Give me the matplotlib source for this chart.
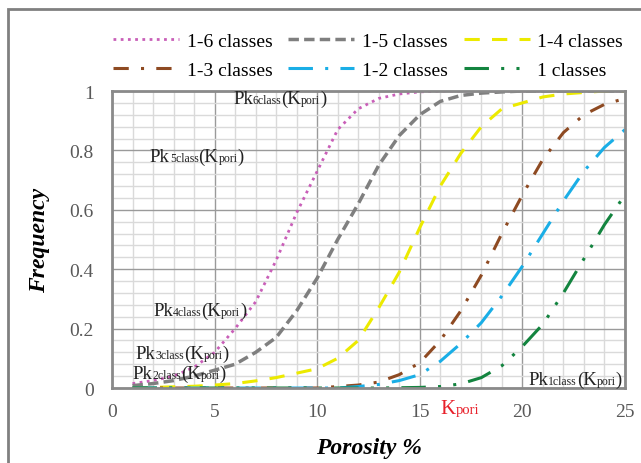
import matplotlib

matplotlib.use("Agg")
import matplotlib.pyplot as plt
from matplotlib.offsetbox import AnnotationBbox, HPacker, TextArea
from matplotlib.patches import Rectangle
from matplotlib.ticker import MultipleLocator

plt.rcParams["font.family"] = ["Liberation Serif", "DejaVu Serif"]

porosity = list(range(1, 26))

cls_1_6 = [0.015, 0.025, 0.04, 0.07, 0.12, 0.2, 0.29, 0.43, 0.59, 0.73, 0.87, 0.94, 0.975,
           0.99, 0.997, 1, 1, 1, 1, 1, 1, 1, 1, 1, 1]
cls_1_5 = [0.008, 0.015, 0.025, 0.04, 0.06, 0.08, 0.12, 0.17, 0.26, 0.37, 0.5, 0.62, 0.75,
           0.85, 0.92, 0.965, 0.985, 0.993, 0.997, 1, 1, 1, 1, 1, 1]
cls_1_4 = [0.0, 0.002, 0.004, 0.006, 0.01, 0.015, 0.024, 0.035, 0.05, 0.065, 0.1, 0.16, 0.27,
           0.39, 0.54, 0.68, 0.79, 0.88, 0.94, 0.96, 0.98, 0.99, 0.995, 1, 1]
cls_1_3 = [0, 0, 0, 0, 0, 0, 0, 0, 0, 0, 0.005, 0.01, 0.02, 0.045, 0.085, 0.16, 0.26, 0.38,
           0.52, 0.65, 0.77, 0.86, 0.92, 0.955, 0.975]
cls_1_2 = [0, 0, 0, 0, 0, 0, 0, 0, 0, 0, 0, 0.005, 0.012, 0.025, 0.045, 0.09, 0.15, 0.22,
           0.31, 0.41, 0.52, 0.63, 0.73, 0.81, 0.87]
cls_1 = [0, 0, 0, 0, 0, 0, 0, 0, 0, 0, 0, 0, 0, 0.001, 0.002, 0.005, 0.014, 0.035, 0.075,
         0.14, 0.215, 0.32, 0.435, 0.55, 0.65]

labels = ["1-6 classes", "1-5 classes", "1-4 classes", "1-3 classes", "1-2 classes", "1 classes"]

# Pk labels: (subscript, x, y, box alignment)
pk_notes = [("6class", 5.9, 0.976, (0, 0.5)),
            ("5class", 1.85, 0.78, (0, 0.5)),
            ("4class", 2.0, 0.26, (0, 0.5)),
            ("3class", 1.15, 0.118, (0, 0.5)),
            ("2class", 1.0, 0.05, (0, 0.5)),
            ("1class", 24.85, 0.03, (1, 0.5))]


def sub_text(ax, parts, xy, align, color="#222222", big=13.5, small=8.5):
    # parts: list of (text, is_subscript)
    boxes = [TextArea(t, textprops=dict(size=small if s else big, color=color))
             for t, s in parts]
    pack = HPacker(children=boxes, align="baseline", pad=0, sep=0)
    ab = AnnotationBbox(pack, xy, xycoords="data", box_alignment=align,
                        frameon=False, pad=0, annotation_clip=False)
    ax.add_artist(ab)


fig = plt.figure(figsize=(6.41, 4.64), dpi=100)
fig.patches.append(Rectangle((8 / 641, -0.1), 1.2, 1 - 10 / 464 + 0.1, transform=fig.transFigure,
                             fill=False, edgecolor="#808080", lw=2))
ax = fig.add_axes([0.1747, 0.1616, 0.8003, 0.6401])

h6, = ax.plot(porosity, cls_1_6, color="#c95fb8", lw=2, ls=(0, (1, 1.6)))
h5, = ax.plot(porosity, cls_1_5, color="#7f7f7f", lw=2.5, ls=(0, (3, 1.5)))
h4, = ax.plot(porosity, cls_1_4, color="#ecea00", lw=2.2, ls=(0, (5, 4)))
h3, = ax.plot(porosity, cls_1_3, color="#8e4a22", lw=2.2, ls=(0, (5, 4, 1, 4)))
h2, = ax.plot(porosity, cls_1_2, color="#1aaee6", lw=2.2, ls=(0, (8, 4, 1, 4)))
h1, = ax.plot(porosity, cls_1, color="#13843f", lw=2.2, ls=(0, (8, 4, 1, 4, 1, 4)))

ax.set_xlim(0, 25)
ax.set_ylim(0, 1)
ax.xaxis.set_major_locator(MultipleLocator(5))
ax.xaxis.set_minor_locator(MultipleLocator(1))
ax.yaxis.set_minor_locator(MultipleLocator(0.04))
ax.set_yticks([0, 0.2, 0.4, 0.6, 0.8, 1])
ax.set_yticklabels(["0", "0.2", "0.4", "0.6", "0.8", "1"])
ax.grid(which="minor", color="#dadada", lw=1)
ax.grid(which="major", color="#9a9a9a", lw=1)
ax.set_axisbelow(True)
ax.tick_params(which="both", length=0, labelsize=14, labelcolor="#595959")
ax.tick_params(axis="x", pad=11)
ax.tick_params(axis="y", pad=13)
for s in ax.spines.values():
    s.set_color("#8a8a8a")
    s.set_linewidth(2)

ax.set_xlabel("Porosity %", fontsize=17, fontweight="bold", style="italic", labelpad=12)
ax.set_ylabel("Frequency", fontsize=17, fontweight="bold", style="italic")
ax.yaxis.set_label_coords(-0.121, 0.5)

for sub, x, y, al in pk_notes:
    sub_text(ax, [("Pk", False), (sub, True), ("(K", False), ("pori", True), (")", False)],
             (x, y), al)
sub_text(ax, [("K", False), ("pori", True)], (16.0, -0.07), (0, 0.5),
         color="#e8202a", big=15, small=10.5)

fig.legend([h6, h3, h5, h2, h4, h1],
           [labels[0], labels[3], labels[1], labels[4], labels[2], labels[5]],
           ncol=3, loc="upper left", bbox_to_anchor=(113 / 641, 1 - 33 / 464), frameon=False,
           borderpad=0, borderaxespad=0,
           fontsize=14, handlelength=3.4, handletextpad=0.4, columnspacing=0.8,
           labelspacing=0.6)

fig.savefig("out.png", dpi=100)
